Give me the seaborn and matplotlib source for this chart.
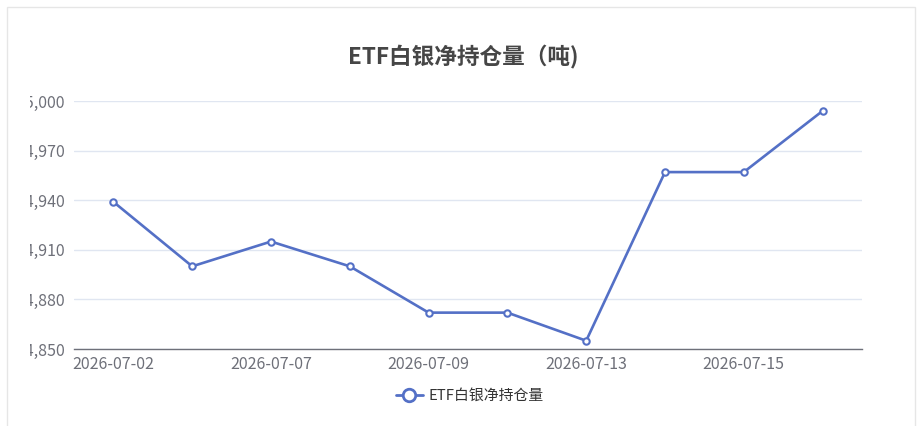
import pandas as pd
import matplotlib
matplotlib.use("Agg")
import matplotlib.pyplot as plt
from matplotlib.lines import Line2D
from matplotlib.patches import Rectangle
import seaborn as sns

# data
dates = ["2026-07-02", "2026-07-06", "2026-07-07", "2026-07-08", "2026-07-09",
         "2026-07-10", "2026-07-13", "2026-07-14", "2026-07-15", "2026-07-16"]
holdings = [14939, 14900, 14915, 14900, 14872, 14872, 14855, 14957, 14957, 14994]
y_ticks = [14850, 14880, 14910, 14940, 14970, 15000]
series_name = "ETF白银净持仓量"
title = "ETF白银净持仓量（吨)"

LINE = "#5470C6"
AXIS = "#6E7079"
GRID = "#E0E6F1"

sns.set_style("white")
plt.rcParams["font.family"] = ["Noto Sans CJK SC", "DejaVu Sans"]

df = pd.DataFrame({"date": dates, "value": holdings})

fig = plt.figure(figsize=(9.24, 4.26), dpi=100)
ax = fig.add_axes([74 / 924, 1 - 349 / 426, (862 - 74) / 924, (349 - 101) / 426])

sns.lineplot(data=df, x="date", y="value", ax=ax, sort=False, color=LINE,
             linewidth=1.9, marker="o", markersize=4.6, markerfacecolor="white",
             markeredgecolor=LINE, markeredgewidth=1.5, zorder=3)

# axes styling
ax.set_xlim(-0.5, len(dates) - 0.5)
ax.set_ylim(y_ticks[0], y_ticks[-1])
ax.set_yticks(y_ticks)
ax.set_yticklabels([f"{v:,}" for v in y_ticks])
ax.set_xticks(range(0, len(dates), 2))
ax.set_xticklabels(dates[::2])
ax.set(xlabel="", ylabel="")
ax.yaxis.grid(True, color=GRID, linewidth=1)
ax.xaxis.grid(False)
for side in ["top", "right", "left"]:
    ax.spines[side].set_visible(False)
ax.spines["bottom"].set_color(AXIS)
ax.spines["bottom"].set_linewidth(1)
ax.tick_params(axis="both", length=0, colors=AXIS, labelsize=11.5)
ax.tick_params(axis="y", pad=6.5)
ax.tick_params(axis="x", pad=5)

# title
fig.text(463 / 924, 1 - 57 / 426, title, ha="center", va="center",
         fontsize=16.3, fontweight="bold", color="#464646")

# legend
handle = Line2D([], [], color=LINE, linewidth=2, marker="o", markersize=9,
                markerfacecolor="white", markeredgecolor=LINE, markeredgewidth=2)
fig.legend([handle], [series_name], loc="center", bbox_to_anchor=(470 / 924, 1 - 396 / 426),
           frameon=False, fontsize=10.7, handlelength=1.8, handletextpad=0.4,
           labelcolor="#333333")

# container: left labels are cut off by the panel edge
fig.add_artist(Rectangle((0, 0), 30 / 924, 1, transform=fig.transFigure,
                         facecolor="white", edgecolor="none", zorder=10))
fig.add_artist(Rectangle((7 / 924, -0.1), (915 - 7) / 924, 1.1 - 7 / 426,
                         transform=fig.transFigure, facecolor="none",
                         edgecolor="#E6E6E6", linewidth=1, zorder=11))

fig.savefig("out.png", dpi=100)
